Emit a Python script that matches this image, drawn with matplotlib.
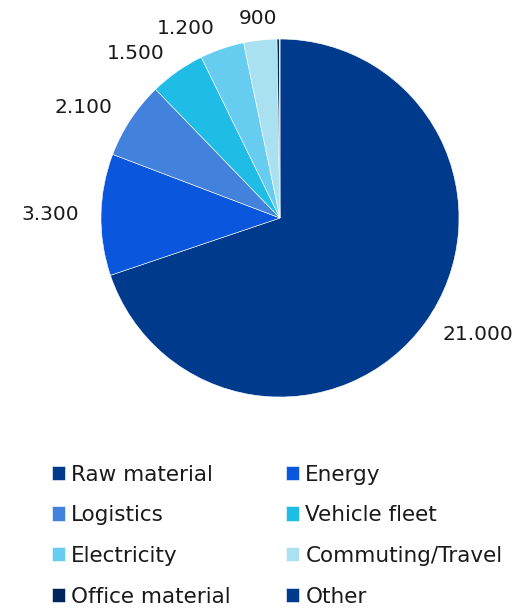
import matplotlib
matplotlib.use("Agg")
import matplotlib.pyplot as plt

categories = ["Raw material", "Energy", "Logistics", "Vehicle fleet",
              "Electricity", "Commuting/Travel", "Office material", "Other"]
values = [21000, 3300, 2100, 1500, 1200, 900, 60, 20]
show_label = [True, True, True, True, True, True, False, False]
colors = ["#003A8C", "#0A56DC", "#4282DC", "#1FBDE5",
          "#66CDF0", "#A9E1F1", "#00245C", "#003A8C"]

def fmt(v):
    return f"{v:,}".replace(",", ".")

labels = [fmt(v) if s else "" for v, s in zip(values, show_label)]

fig = plt.figure(figsize=(5.23, 6.08), dpi=100)
ax = fig.add_axes([0.1931, 0.347, 0.6845, 0.5888])
wedges, texts = ax.pie(values, labels=labels, colors=colors, startangle=90,
                       counterclock=False, labeldistance=1.12,
                       wedgeprops=dict(linewidth=0.4, edgecolor="white"),
                       textprops=dict(fontsize=14.5, color="#1a1a1a"))
texts[5].set_ha("center")
ax.set_xlim(-1, 1)
ax.set_ylim(-1, 1)
ax.set_aspect("equal")

# row-major legend order (matplotlib fills columns first)
ncol = 2
nrow = (len(categories) + ncol - 1) // ncol
order = [r * ncol + c for c in range(ncol) for r in range(nrow)]
leg = fig.legend([wedges[i] for i in order], [categories[i] for i in order],
                 ncol=ncol, loc="upper left",
                 bbox_to_anchor=(0.0994, 0.236), frameon=False,
                 fontsize=15.5, handlelength=0.6, handleheight=0.65,
                 handletextpad=0.3, labelspacing=0.96, columnspacing=2.55,
                 borderaxespad=0, borderpad=0)
for t in leg.get_texts():
    t.set_color("#1a1a1a")

fig.savefig("out.png", dpi=100)
